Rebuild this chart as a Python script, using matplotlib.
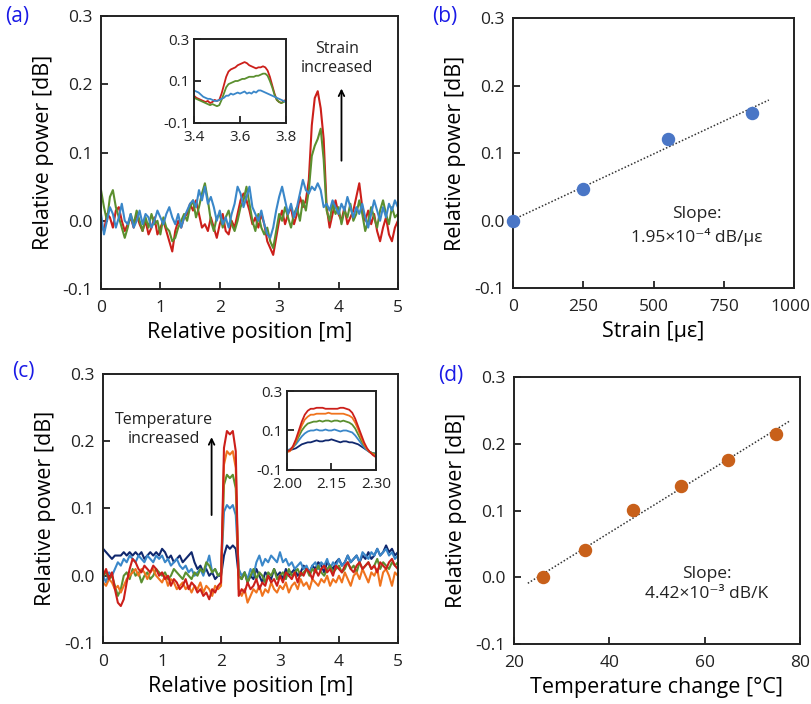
import matplotlib.pyplot as plt
import matplotlib.transforms as mtransforms
import numpy as np

plt.rcParams['font.family'] = ['Open Sans', 'DejaVu Sans']
plt.rcParams['axes.unicode_minus'] = False

# position along the fibre, 0.05 m steps
pos = np.linspace(0, 5, 101)

# (a) strain traces
strain_red = [
    -0.005, -0.015, 0.010, 0.005, -0.010, 0.015, 0.020, 0.000, -0.015, -0.005,
    0.005, -0.010, 0.010, -0.005, -0.015, 0.000, -0.020, -0.010, 0.005, -0.020,
    -0.010, 0.000, -0.015, -0.030, -0.045, -0.015, 0.000, -0.010, 0.005, 0.010,
    0.025, 0.015, 0.030, 0.010, -0.010, -0.005, -0.015, 0.005, -0.010, -0.025,
    -0.005, 0.010, -0.015, -0.020, 0.000, -0.010, 0.010, 0.030, 0.040, 0.030,
    0.015, -0.005, 0.005, -0.010, 0.010, -0.005, -0.030, -0.040, -0.050, -0.025,
    0.000, 0.015, -0.005, 0.010, 0.020, -0.005, 0.010, 0.035, 0.020, 0.030,
    0.060, 0.140, 0.180, 0.190, 0.165, 0.120, 0.020, -0.010, 0.010, 0.030,
    0.010, 0.000, 0.020, -0.005, 0.005, 0.015, 0.035, 0.055, 0.020, 0.000,
    0.015, -0.005, 0.010, -0.015, -0.030, -0.010, 0.005, -0.020, -0.030, -0.010,
    0.000]
strain_green = [
    0.045, 0.020, 0.000, 0.035, 0.045, 0.020, 0.005, -0.010, -0.025, -0.010,
    0.010, -0.005, 0.015, 0.000, -0.015, 0.005, -0.010, 0.010, -0.005, 0.000,
    -0.020, 0.005, -0.010, -0.015, -0.030, -0.025, -0.010, 0.000, 0.010, 0.000,
    0.020, 0.030, 0.005, 0.020, 0.040, 0.055, 0.030, 0.000, -0.015, 0.005,
    0.010, -0.010, 0.005, 0.015, -0.005, -0.015, 0.000, 0.020, 0.030, 0.050,
    0.025, 0.000, -0.015, 0.010, -0.010, -0.020, -0.010, -0.030, -0.040, -0.015,
    0.010, 0.000, 0.020, 0.005, -0.010, 0.010, 0.020, 0.000, 0.030, 0.015,
    0.045, 0.095, 0.110, 0.120, 0.135, 0.090, 0.015, 0.000, 0.025, 0.010,
    0.020, -0.005, 0.015, 0.005, 0.025, 0.000, 0.010, 0.030, 0.010, -0.015,
    0.000, 0.020, 0.005, -0.010, 0.015, 0.030, 0.010, -0.005, 0.020, 0.005,
    0.010]
strain_blue = [
    0.010, -0.020, 0.000, 0.020, 0.010, -0.010, 0.005, 0.025, 0.000, -0.005,
    0.010, -0.010, 0.000, 0.015, -0.005, 0.010, 0.005, -0.010, 0.000, 0.015,
    0.005, -0.005, 0.010, 0.020, 0.005, -0.005, 0.010, -0.010, 0.005, 0.015,
    0.025, 0.030, 0.020, 0.045, 0.030, 0.050, 0.025, 0.035, 0.020, 0.000,
    0.015, -0.005, 0.005, -0.010, 0.010, 0.025, 0.050, 0.040, 0.020, 0.035,
    0.050, 0.020, 0.010, 0.000, 0.015, -0.005, -0.020, -0.025, -0.010, 0.015,
    0.035, 0.050, 0.030, 0.010, 0.025, 0.005, 0.020, 0.040, 0.060, 0.045,
    0.040, 0.050, 0.045, 0.055, 0.045, 0.020, 0.025, 0.015, 0.030, 0.020,
    0.010, 0.025, 0.015, 0.035, 0.020, 0.005, 0.020, 0.010, 0.025, 0.005,
    -0.010, 0.010, 0.030, 0.015, 0.000, 0.020, 0.005, 0.025, 0.015, 0.030,
    0.020]

# (a) inset, 3.4-3.8 m in 0.01 m steps
pos_a_in = np.linspace(3.4, 3.8, 41)
strain_red_in = [
    0.030, 0.020, 0.015, 0.010, 0.005, 0.000, 0.005, -0.005, 0.000, 0.010,
    0.005, 0.010, 0.040, 0.080, 0.120, 0.145, 0.155, 0.160, 0.165, 0.175,
    0.180, 0.185, 0.190, 0.185, 0.175, 0.170, 0.165, 0.160, 0.165, 0.165,
    0.170, 0.165, 0.150, 0.120, 0.080, 0.040, 0.010, 0.000, -0.005, 0.005,
    0.010]
strain_green_in = [
    0.020, 0.015, 0.010, 0.005, 0.000, -0.005, -0.010, -0.015, -0.010, -0.015,
    -0.020, -0.015, 0.010, 0.040, 0.070, 0.085, 0.090, 0.095, 0.100, 0.100,
    0.105, 0.110, 0.110, 0.115, 0.120, 0.120, 0.120, 0.125, 0.125, 0.130,
    0.135, 0.135, 0.125, 0.100, 0.070, 0.035, 0.010, 0.000, -0.005, 0.000,
    0.005]
strain_blue_in = [
    0.055, 0.050, 0.045, 0.035, 0.025, 0.020, 0.015, 0.015, 0.010, 0.005,
    0.005, 0.010, 0.015, 0.020, 0.030, 0.030, 0.040, 0.035, 0.040, 0.045,
    0.040, 0.045, 0.050, 0.040, 0.045, 0.040, 0.050, 0.045, 0.055, 0.055,
    0.050, 0.045, 0.040, 0.035, 0.030, 0.025, 0.020, 0.015, 0.010, 0.005,
    0.000]

# (b) peak change vs strain
strain = [0, 250, 550, 850]
strain_peak = [0.000, 0.047, 0.121, 0.159]
strain_slope = 1.95e-4

# (c) temperature traces
temp_navy = [
    0.040, 0.035, 0.030, 0.025, 0.030, 0.030, 0.030, 0.035, 0.030, 0.035,
    0.030, 0.035, 0.030, 0.035, 0.025, 0.030, 0.035, 0.030, 0.035, 0.030,
    0.040, 0.035, 0.025, 0.030, 0.020, 0.025, 0.030, 0.020, 0.025, 0.030,
    0.035, 0.020, 0.010, 0.015, 0.005, 0.010, 0.000, 0.005, -0.005, 0.000,
    0.000, 0.030, 0.045, 0.040, 0.045, 0.040, 0.000, -0.005, 0.005, -0.010,
    0.000, -0.005, 0.010, 0.000, -0.010, 0.005, 0.000, -0.005, 0.010, 0.000,
    0.005, -0.005, 0.010, 0.000, 0.005, 0.010, 0.000, 0.005, 0.015, 0.010,
    0.005, 0.015, 0.010, 0.020, 0.015, 0.005, 0.020, 0.015, 0.010, 0.020,
    0.025, 0.015, 0.020, 0.030, 0.020, 0.025, 0.030, 0.020, 0.030, 0.025,
    0.035, 0.025, 0.030, 0.040, 0.030, 0.035, 0.045, 0.035, 0.040, 0.030,
    0.035]
temp_blue = [
    0.000, -0.010, 0.005, 0.000, 0.010, 0.020, 0.015, 0.025, 0.020, 0.030,
    0.025, 0.020, 0.030, 0.025, 0.020, 0.030, 0.025, 0.020, 0.030, 0.025,
    0.030, 0.020, 0.025, 0.015, 0.020, 0.025, 0.015, 0.010, 0.015, 0.005,
    0.010, 0.000, 0.005, 0.010, 0.000, 0.015, 0.030, 0.005, 0.010, 0.000,
    0.005, 0.095, 0.105, 0.100, 0.105, 0.090, 0.010, 0.000, 0.005, -0.005,
    0.010, 0.000, 0.020, 0.030, 0.015, 0.025, 0.020, 0.030, 0.025, 0.020,
    0.035, 0.020, 0.025, 0.015, 0.020, 0.010, 0.015, 0.020, 0.010, 0.015,
    0.005, 0.015, 0.020, 0.010, 0.020, 0.015, 0.025, 0.010, 0.020, 0.015,
    0.025, 0.015, 0.020, 0.030, 0.020, 0.025, 0.030, 0.020, 0.035, 0.030,
    0.025, 0.035, 0.030, 0.040, 0.030, 0.035, 0.040, 0.030, 0.035, 0.025,
    0.030]
temp_green = [
    0.000, 0.005, -0.005, 0.000, -0.015, -0.030, -0.020, 0.000, 0.005, -0.005,
    0.010, 0.000, 0.005, -0.010, 0.000, 0.005, -0.005, 0.000, 0.010, 0.005,
    0.000, 0.005, -0.005, 0.000, 0.010, 0.005, 0.000, -0.005, 0.005, 0.000,
    -0.005, 0.005, 0.000, 0.010, 0.005, 0.020, 0.015, 0.005, 0.010, 0.000,
    0.005, 0.135, 0.150, 0.145, 0.150, 0.130, 0.000, -0.005, 0.005, -0.010,
    0.000, 0.010, -0.005, 0.005, 0.000, -0.010, 0.005, 0.000, 0.010, -0.005,
    0.000, 0.005, -0.005, 0.010, 0.000, 0.005, 0.010, 0.000, 0.005, 0.010,
    0.000, 0.010, 0.005, 0.015, 0.005, 0.000, 0.010, 0.015, 0.005, 0.010,
    0.015, 0.005, 0.010, 0.020, 0.010, 0.015, 0.005, 0.020, 0.010, 0.015,
    0.020, 0.010, 0.015, 0.025, 0.010, 0.020, 0.015, 0.010, 0.020, 0.015,
    0.020]
temp_orange = [
    -0.010, -0.015, -0.005, -0.010, -0.020, -0.015, -0.025, -0.015, -0.005, 0.000,
    0.005, 0.010, 0.000, 0.010, 0.005, -0.005, 0.005, 0.010, 0.000, -0.005,
    -0.010, 0.000, -0.015, -0.005, -0.010, -0.020, -0.015, -0.010, -0.020, -0.015,
    -0.025, -0.015, -0.020, -0.010, -0.025, -0.015, -0.020, -0.030, -0.015, -0.020,
    -0.015, 0.165, 0.185, 0.180, 0.185, 0.160, -0.020, -0.030, -0.020, -0.040,
    -0.030, -0.020, -0.025, -0.015, -0.030, -0.020, -0.025, -0.010, -0.020, -0.025,
    -0.015, -0.020, -0.010, -0.025, -0.015, -0.010, -0.020, -0.005, -0.015, -0.010,
    -0.020, -0.005, -0.010, -0.015, -0.005, -0.010, 0.000, -0.015, -0.005, -0.010,
    0.000, -0.010, 0.005, -0.005, -0.015, 0.000, 0.005, -0.005, 0.010, 0.000,
    -0.010, 0.005, 0.000, 0.010, -0.015, 0.005, 0.010, 0.000, -0.015, 0.005,
    0.000]
temp_red = [
    0.000, 0.010, -0.005, 0.005, -0.020, -0.040, -0.045, -0.035, -0.010, 0.010,
    0.025, 0.020, 0.010, 0.005, 0.015, 0.010, 0.005, 0.015, 0.010, 0.000,
    0.005, -0.005, 0.000, -0.015, -0.005, -0.010, -0.020, -0.015, -0.005, -0.020,
    -0.010, -0.015, -0.025, -0.020, -0.030, -0.025, -0.035, -0.020, -0.025, -0.015,
    -0.010, 0.190, 0.215, 0.210, 0.215, 0.185, -0.030, -0.020, -0.025, -0.010,
    -0.020, -0.015, -0.005, -0.020, -0.010, -0.015, 0.000, -0.010, -0.005, -0.015,
    0.000, -0.010, 0.005, 0.000, -0.005, 0.005, -0.010, 0.005, 0.000, 0.010,
    0.005, -0.005, 0.010, 0.000, 0.010, 0.015, 0.005, 0.010, 0.000, 0.015,
    0.010, 0.005, 0.015, 0.020, 0.010, 0.005, 0.015, 0.020, 0.010, 0.015,
    0.020, 0.010, 0.015, 0.005, 0.020, 0.015, 0.010, 0.020, 0.025, 0.015,
    0.010]

# (c) inset, 2.00-2.30 m in 0.01 m steps
pos_c_in = np.linspace(2.0, 2.3, 31)
temp_navy_in = [
    0.000, 0.000, 0.005, 0.010, 0.020, 0.030, 0.035, 0.040, 0.040, 0.045,
    0.050, 0.045, 0.045, 0.050, 0.050, 0.055, 0.050, 0.045, 0.040, 0.045,
    0.045, 0.040, 0.040, 0.035, 0.030, 0.020, 0.010, 0.000, -0.010, -0.015,
    -0.020]
temp_blue_in = [
    0.000, 0.005, 0.015, 0.030, 0.050, 0.070, 0.085, 0.095, 0.100, 0.100,
    0.105, 0.100, 0.100, 0.105, 0.100, 0.100, 0.105, 0.100, 0.095, 0.100,
    0.100, 0.095, 0.090, 0.075, 0.055, 0.035, 0.015, 0.000, -0.010, -0.015,
    -0.015]
temp_green_in = [
    -0.005, 0.000, 0.015, 0.040, 0.070, 0.100, 0.120, 0.135, 0.140, 0.145,
    0.145, 0.150, 0.145, 0.150, 0.150, 0.145, 0.150, 0.150, 0.145, 0.150,
    0.145, 0.140, 0.130, 0.110, 0.080, 0.050, 0.025, 0.005, -0.010, -0.015,
    -0.020]
temp_orange_in = [
    -0.010, -0.005, 0.015, 0.045, 0.085, 0.125, 0.155, 0.170, 0.180, 0.180,
    0.185, 0.185, 0.185, 0.185, 0.190, 0.185, 0.185, 0.185, 0.185, 0.185,
    0.180, 0.175, 0.165, 0.140, 0.105, 0.065, 0.030, 0.005, -0.010, -0.020,
    -0.025]
temp_red_in = [
    -0.005, 0.000, 0.020, 0.055, 0.100, 0.145, 0.180, 0.200, 0.210, 0.210,
    0.215, 0.215, 0.215, 0.210, 0.210, 0.210, 0.210, 0.210, 0.215, 0.215,
    0.210, 0.205, 0.190, 0.160, 0.120, 0.080, 0.040, 0.010, -0.010, -0.025,
    -0.035]

# (d) peak change vs temperature
temp = [26, 35, 45, 55, 65, 75]
temp_peak = [0.000, 0.041, 0.101, 0.137, 0.176, 0.215]
temp_slope = 4.42e-3

RED = '#cc1f1a'
GREEN = '#5b8f2f'
BLUE = '#3a87c9'
NAVY = '#10286e'
ORANGE = '#f0741e'

power_ticks = [-0.1, 0.0, 0.1, 0.2, 0.3]
power_labels = ['-0.1', '0.0', '0.1', '0.2', '0.3']


def style(ax, size=12.5):
    for s in ax.spines.values():
        s.set_linewidth(1.4)
        s.set_color('#222222')
    ax.tick_params(direction='in', length=5, width=1.3, labelsize=size,
                   colors='#222222', top=False, right=False)
    ax.tick_params(axis='x', pad=8)
    ax.tick_params(axis='y', pad=6)


fig = plt.figure(figsize=(8.12, 7.04), dpi=100)

# ---- (a)
ax = fig.add_axes([0.1244, 0.5895, 0.3656, 0.3875])
ax.plot(pos, strain_red, color=RED, lw=1.5)
ax.plot(pos, strain_green, color=GREEN, lw=1.5)
ax.plot(pos, strain_blue, color=BLUE, lw=1.5)
ax.set_xlim(0, 5)
ax.set_ylim(-0.1, 0.3)
ax.set_xticks(range(6))
ax.set_yticks(power_ticks)
ax.set_yticklabels(power_labels)
style(ax)
ax.set_xlabel('Relative position [m]', fontsize=15.5, labelpad=4)
ax.set_ylabel('Relative power [dB]', fontsize=15.5, labelpad=6)
ax.annotate('', xy=(4.05, 0.198), xytext=(4.05, 0.084),
            arrowprops=dict(arrowstyle='->', color='black', lw=1.3))
ax.text(3.97, 0.238, 'Strain\nincreased', ha='center', va='center',
        fontsize=11.5, linespacing=1.25, color='#222222')

ins = fig.add_axes([0.2389, 0.8253, 0.1133, 0.1193])
ins.plot(pos_a_in, strain_red_in, color=RED, lw=1.3)
ins.plot(pos_a_in, strain_green_in, color=GREEN, lw=1.3)
ins.plot(pos_a_in, strain_blue_in, color=BLUE, lw=1.3)
ins.set_xlim(3.4, 3.8)
ins.set_ylim(-0.1, 0.3)
ins.set_xticks([3.4, 3.6, 3.8])
ins.set_xticklabels(['3.4', '3.6', '3.8'])
ins.set_yticks([-0.1, 0.1, 0.3])
ins.set_yticklabels(['-0.1', '0.1', '0.3'])
style(ins, 11)
ins.tick_params(axis='x', pad=5)
ins.tick_params(axis='y', pad=3)

# ---- (b)
ax = fig.add_axes([0.632, 0.591, 0.346, 0.383])
fx = np.array([0, 910])
b0 = np.mean(strain_peak) - strain_slope * np.mean(strain)
ax.plot(fx, b0 + strain_slope * fx, color='#333333', ls=(0, (1, 1.3)), lw=1.1)
ax.scatter(strain, strain_peak, s=75, color='#4a76c6', zorder=3,
           clip_on=False)
ax.set_xlim(0, 1000)
ax.set_ylim(-0.1, 0.3)
ax.set_xticks([0, 250, 500, 750, 1000])
ax.set_yticks(power_ticks)
ax.set_yticklabels(power_labels)
style(ax)
# keep "1000" inside the figure edge
last = ax.get_xticklabels()[-1]
last.set_transform(last.get_transform() +
                   mtransforms.ScaledTranslation(-4 / 100, 0, fig.dpi_scale_trans))
ax.set_xlabel('Strain [με]', fontsize=15.5, labelpad=4)
ax.set_ylabel('Relative power [dB]', fontsize=15.5, labelpad=6)
ax.text(655, -0.008, 'Slope:\n1.95×10⁻⁴ dB/με', ha='center', va='center',
        fontsize=12.5, linespacing=1.4, color='#222222')

# ---- (c)
ax = fig.add_axes([0.127, 0.0866, 0.363, 0.3824])
ax.plot(pos, temp_navy, color=NAVY, lw=1.5)
ax.plot(pos, temp_blue, color=BLUE, lw=1.5)
ax.plot(pos, temp_green, color=GREEN, lw=1.5)
ax.plot(pos, temp_orange, color=ORANGE, lw=1.5)
ax.plot(pos, temp_red, color=RED, lw=1.5)
ax.set_xlim(0, 5)
ax.set_ylim(-0.1, 0.3)
ax.set_xticks(range(6))
ax.set_yticks(power_ticks)
ax.set_yticklabels(power_labels)
style(ax)
ax.set_xlabel('Relative position [m]', fontsize=15.5, labelpad=4)
ax.set_ylabel('Relative power [dB]', fontsize=15.5, labelpad=6)
ax.annotate('', xy=(1.84, 0.21), xytext=(1.84, 0.086),
            arrowprops=dict(arrowstyle='->', color='black', lw=1.3))
ax.text(1.03, 0.217, 'Temperature\nincreased', ha='center', va='center',
        fontsize=11.5, linespacing=1.25, color='#222222')

ins = fig.add_axes([0.3534, 0.3324, 0.1096, 0.1122])
ins.plot(pos_c_in, temp_navy_in, color=NAVY, lw=1.3)
ins.plot(pos_c_in, temp_blue_in, color=BLUE, lw=1.3)
ins.plot(pos_c_in, temp_green_in, color=GREEN, lw=1.3)
ins.plot(pos_c_in, temp_orange_in, color=ORANGE, lw=1.3)
ins.plot(pos_c_in, temp_red_in, color=RED, lw=1.3)
ins.set_xlim(2.0, 2.3)
ins.set_ylim(-0.1, 0.3)
ins.set_xticks([2.0, 2.15, 2.3])
ins.set_xticklabels(['2.00', '2.15', '2.30'])
ins.set_yticks([-0.1, 0.1, 0.3])
ins.set_yticklabels(['-0.1', '0.1', '0.3'])
style(ins, 11)
ins.tick_params(axis='x', pad=5)
ins.tick_params(axis='y', pad=3)

# ---- (d)
ax = fig.add_axes([0.633, 0.085, 0.352, 0.3795])
fx = np.array([22.9, 78.0])
b0 = np.mean(temp_peak) - temp_slope * np.mean(temp)
ax.plot(fx, b0 + temp_slope * fx, color='#333333', ls=(0, (1, 1.3)), lw=1.1)
ax.scatter(temp, temp_peak, s=75, color='#c8601a', zorder=3)
ax.set_xlim(20, 80)
ax.set_ylim(-0.1, 0.3)
ax.set_xticks([20, 40, 60, 80])
ax.set_yticks(power_ticks)
ax.set_yticklabels(power_labels)
style(ax)
ax.set_xlabel('Temperature change [°C]', fontsize=15.5, labelpad=4)
ax.set_ylabel('Relative power [dB]', fontsize=15.5, labelpad=6)
ax.text(60.4, -0.01, 'Slope:\n4.42×10⁻³ dB/K', ha='center', va='center',
        fontsize=12.5, linespacing=1.4, color='#222222')

# panel letters
for x, y, t in [(0.006, 0.976, '(a)'), (0.532, 0.977, '(b)'),
                (0.015, 0.473, '(c)'), (0.539, 0.466, '(d)')]:
    fig.text(x, y, t, fontsize=15, color='#1a1ae6', va='center')

fig.savefig('out.png', dpi=100)
